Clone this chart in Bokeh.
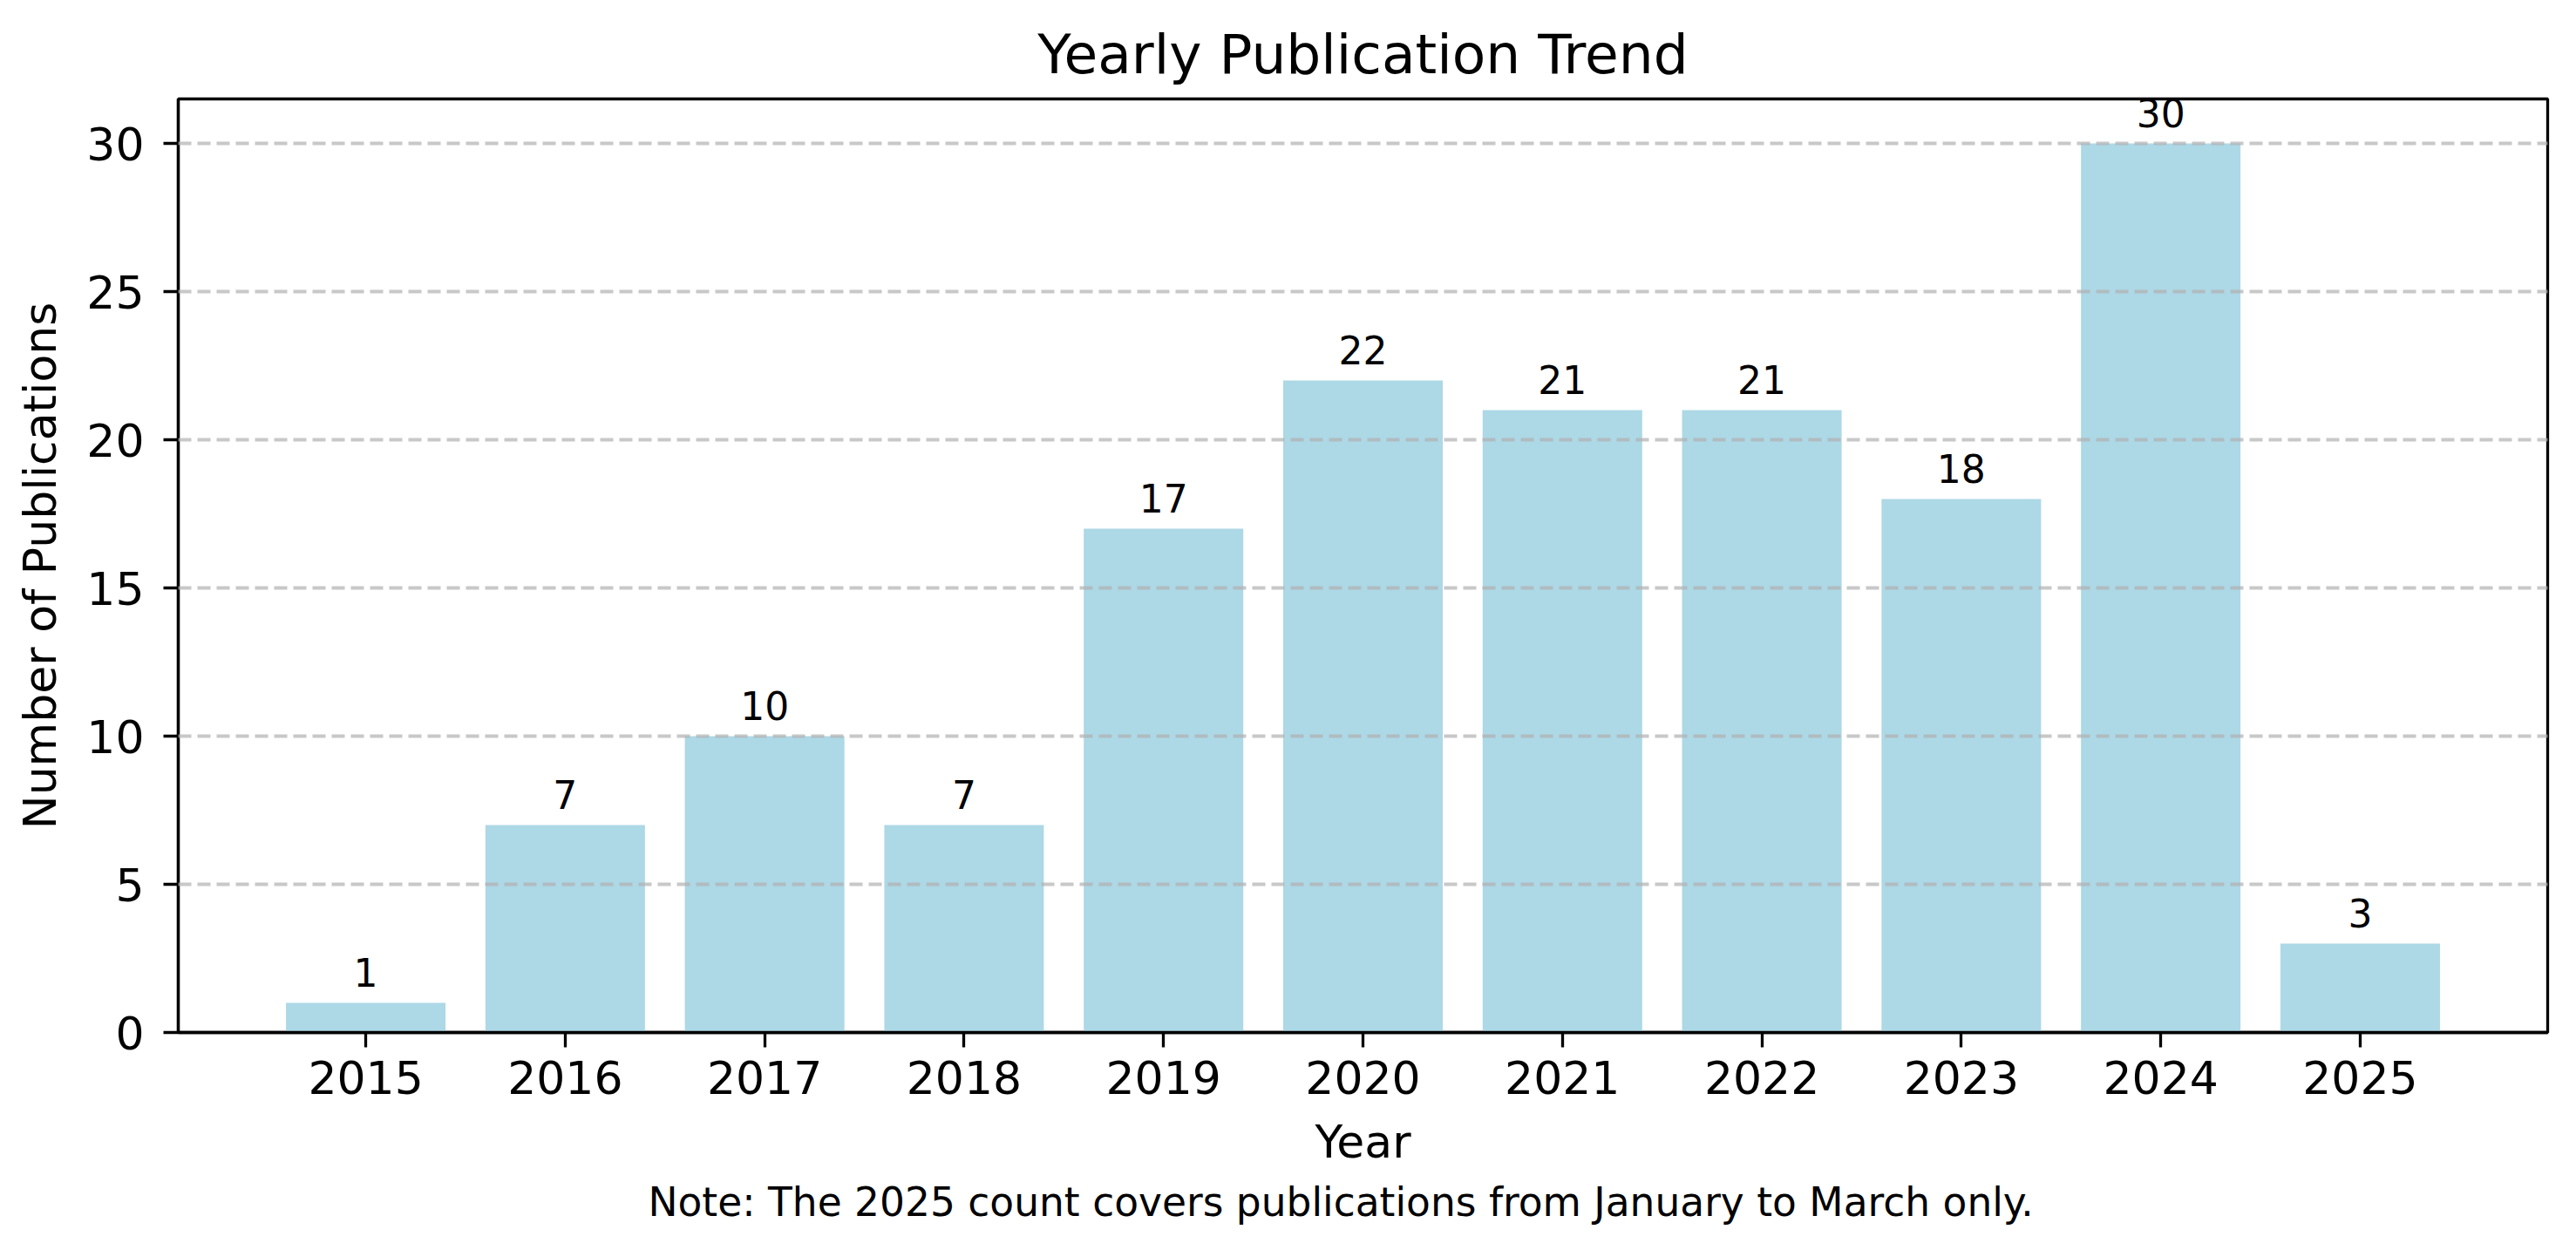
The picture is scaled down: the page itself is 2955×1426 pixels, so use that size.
from bokeh.plotting import figure
from bokeh.models import ColumnDataSource, FixedTicker, Range1d, Title, LabelSet
from bokeh.core.properties import value
from bokeh.embed import file_html
from bokeh.resources import INLINE

years = [2015, 2016, 2017, 2018, 2019, 2020, 2021, 2022, 2023, 2024, 2025]
counts = [1, 7, 10, 7, 17, 22, 21, 21, 18, 30, 3]
year_labels = [str(y) for y in years]
count_labels = [str(c) for c in counts]
y_ticks = [0, 5, 10, 15, 20, 25, 30]

FONT = "DejaVu Sans"

src = ColumnDataSource(data=dict(x=years, top=counts, label=count_labels))

p = figure(width=2947, height=1418, output_backend="svg", toolbar_location=None,
           x_range=Range1d(2014.06, 2025.94), y_range=Range1d(0, 31.5),
           min_border_left=204, min_border_right=25, min_border_top=113, min_border_bottom=234)

p.vbar(x="x", top="top", width=0.8, source=src, fill_color="#ADD8E6", line_color=None)

labels = LabelSet(x="x", y="top", text="label", source=src, text_align="center",
                  text_baseline="alphabetic", y_offset=19, text_font=value(FONT),
                  text_font_size="44px", text_color="black")
p.add_layout(labels)

# Title
p.title.text = "Yearly Publication Trend"
p.title.align = "center"
p.title.text_font = FONT
p.title.text_font_size = "63px"
p.title.text_font_style = "normal"
p.title.text_color = "black"
p.title.standoff = 29

# Axes
for ax in (p.xaxis[0], p.yaxis[0]):
    ax.axis_line_color = "black"
    ax.axis_line_width = 3.3
    ax.major_tick_line_color = "black"
    ax.major_tick_line_width = 3.3
    ax.major_tick_out = 17
    ax.major_tick_in = 0
    ax.minor_tick_line_color = None
    ax.major_label_text_font = FONT
    ax.major_label_text_font_size = "52px"
    ax.major_label_text_color = "black"
    ax.axis_label_text_font = FONT
    ax.axis_label_text_font_size = "52px"
    ax.axis_label_text_font_style = "normal"
    ax.axis_label_text_color = "black"

p.xaxis.ticker = FixedTicker(ticks=years)
p.xaxis.major_label_overrides = {y: s for y, s in zip(years, year_labels)}
p.xaxis.axis_label = "Year"
p.xaxis.major_label_standoff = 15
p.xaxis.axis_label_standoff = 22

p.yaxis.ticker = FixedTicker(ticks=y_ticks)
p.yaxis.axis_label = "Number of Publications"
p.yaxis.major_label_standoff = 22
p.yaxis.axis_label_standoff = 20

# Grid
p.xgrid.grid_line_color = None
p.ygrid.grid_line_color = "#b0b0b0"
p.ygrid.grid_line_alpha = 0.7
p.ygrid.grid_line_width = 4
p.ygrid.grid_line_dash = "15 7"
p.ygrid.level = "overlay"

p.outline_line_color = "black"
p.outline_line_width = 3.3
p.outline_line_alpha = 1.0
p.background_fill_color = "white"
p.border_fill_color = "white"

note = Title(text="Note: The 2025 count covers publications from January to March only.",
             align="left", offset=539, text_font=FONT, text_font_size="45.5px",
             text_font_style="normal", text_color="black", standoff=17)
p.add_layout(note, "below")

open("out.html", "w").write(file_html(p, INLINE))
